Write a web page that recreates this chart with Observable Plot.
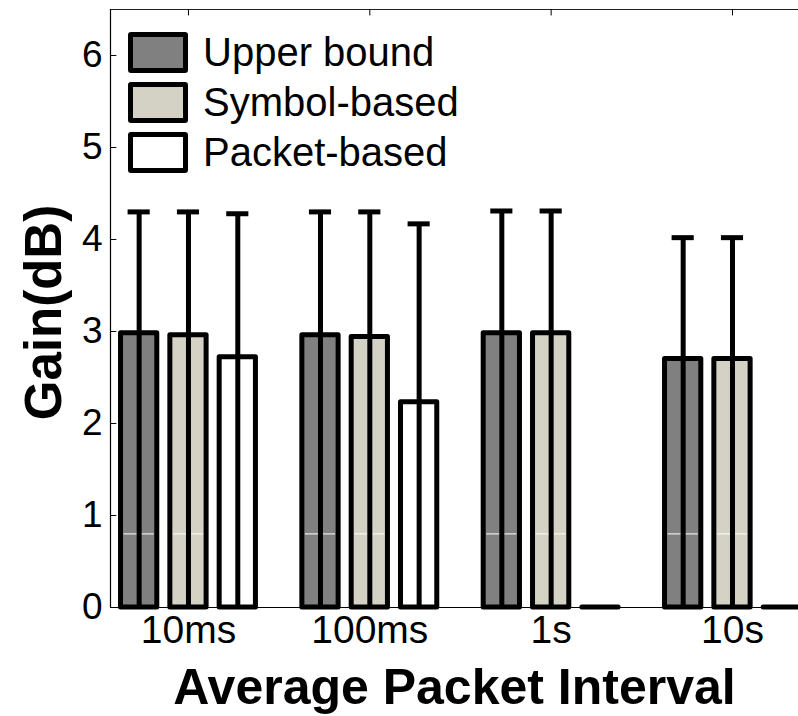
<!DOCTYPE html>
<html>
<head>
<meta charset="utf-8">
<script src="https://cdn.jsdelivr.net/npm/d3@7"></script>
<script src="https://cdn.jsdelivr.net/npm/@observablehq/plot@0.6"></script>
<style>
  html, body { margin: 0; padding: 0; background: #fff; }
  #wrap { position: relative; width: 798px; height: 716px; font-family: "Liberation Sans", Arial, sans-serif; }
  #legend { position: absolute; left: 128px; top: 27px; }
  .item { display: flex; align-items: center; height: 50px; }
  .sw { box-sizing: border-box; width: 60px; height: 41px; border: 5px solid #000; border-radius: 3px; margin-right: 15px; }
  .lab { font-size: 40px; line-height: 40px; color: #000; }
</style>
</head>
<body>
<div id="wrap"></div>
<script>
// Average packet interval groups
const intervals = ["10ms", "100ms", "1s", "10s"];
const seriesNames = ["Upper bound", "Symbol-based", "Packet-based"];
const seriesColors = ["#808080", "#d4d1c5", "#ffffff"];

// Mean gain (dB) per series, one value per interval
const upperBound  = [2.98, 2.96, 2.98, 2.70];
const symbolBased = [2.96, 2.94, 2.98, 2.70];
const packetBased = [2.72, 2.23, 0, 0];

// Upper error (dB) added on top of each mean
const upperBoundErr  = [1.32, 1.34, 1.33, 1.32];
const symbolBasedErr = [1.34, 1.36, 1.33, 1.32];
const packetBasedErr = [1.56, 1.94, 0, 0];

const yTicks = [0, 1, 2, 3, 4, 5, 6];
const yMax = 6.5;
const glintLevel = 0.8;   // thin highlight across the shaded bars

// Layout of the grouped bars, in group units
const xMin = 0.57, xMax = 4.364;
const barOffset = 0.272, barWidth = 0.2, capHalf = 0.061;

const means = [upperBound, symbolBased, packetBased];
const errs = [upperBoundErr, symbolBasedErr, packetBasedErr];

const bars = [];
means.forEach((vals, s) => vals.forEach((v, g) => {
  const xc = g + 1 + (s - 1) * barOffset;
  bars.push({id: `${s}-${g}`, s, g, xc, x1: xc - barWidth / 2, x2: xc + barWidth / 2,
             value: v, top: v + errs[s][g], fill: seriesColors[s]});
}));
// two points per bar so the outline is drawn as a closed area (zero-height bars stay visible)
const barOutline = bars.flatMap(b => [{...b, x: b.x1}, {...b, x: b.x2}]);
const withErr = bars.filter(b => b.top > b.value);

const font = "'Liberation Sans', Arial, sans-serif";

const chart = Plot.plot({
  width: 798,
  height: 716,
  marginLeft: 110,
  marginRight: 0,
  marginTop: 9,
  marginBottom: 109,
  style: {fontFamily: font, background: "#fff", color: "#000"},
  x: {domain: [xMin, xMax]},
  y: {domain: [0, yMax]},
  color: {type: "identity"},
  marks: [
    Plot.areaY(barOutline, {x: "x", y1: 0, y2: "value", z: "id", fill: "fill",
      stroke: "#000", strokeWidth: 5, strokeLinejoin: "round", curve: "linear"}),
    Plot.ruleY(bars.filter(b => b.value > glintLevel && b.s < 2),
      {y: () => glintLevel, x1: "x1", x2: "x2", insetLeft: 3, insetRight: 3, stroke: "#fff", strokeWidth: 1}),
    Plot.ruleX(withErr, {x: "xc", y1: 0, y2: "top", stroke: "#000", strokeWidth: 5}),
    Plot.ruleY(withErr, {y: "top", x1: b => b.xc - capHalf, x2: b => b.xc + capHalf, stroke: "#000", strokeWidth: 5}),
    // axis box lines
    Plot.ruleY([0], {x1: xMin, x2: xMax, stroke: "#000", strokeWidth: 1.2}),
    Plot.ruleY([yMax], {x1: xMin, x2: xMax, stroke: "#222", strokeWidth: 1.2}),
    Plot.ruleX([xMin], {y1: 0, y2: yMax, stroke: "#000", strokeWidth: 1.2}),
    // inward ticks
    Plot.ruleY(yTicks, {x1: xMin, x2: xMin + 0.035, stroke: "#000", strokeWidth: 1}),
    Plot.ruleX(intervals.map((d, i) => i + 1), {y1: yMax, y2: yMax - 0.07, stroke: "#000", strokeWidth: 1}),
    Plot.axisY({ticks: yTicks, tickFormat: d => String(d), tickSize: 0, tickPadding: 8, fontSize: 37, label: null}),
    Plot.axisX({ticks: intervals.map((d, i) => i + 1), tickFormat: i => intervals[i - 1],
      tickSize: 0, tickPadding: 8, fontSize: 39, label: null}),
    Plot.text(["Gain(dB)"], {frameAnchor: "left", dx: -66, dy: 4, rotate: -90, fontSize: 51,
      fontWeight: "bold", textAnchor: "middle", lineAnchor: "middle"}),
    Plot.text(["Average Packet Interval"], {frameAnchor: "bottom", dy: 80, fontSize: 50,
      fontWeight: "bold", textAnchor: "middle", lineAnchor: "middle"})
  ]
});

const wrap = document.getElementById("wrap");
wrap.appendChild(chart);

const legend = document.createElement("div");
legend.id = "legend";
seriesNames.forEach((name, i) => {
  const item = document.createElement("div");
  item.className = "item";
  const sw = document.createElement("div");
  sw.className = "sw";
  sw.style.background = seriesColors[i];
  const lab = document.createElement("span");
  lab.className = "lab";
  lab.textContent = name;
  item.appendChild(sw);
  item.appendChild(lab);
  legend.appendChild(item);
});
wrap.appendChild(legend);
</script>
</body>
</html>
